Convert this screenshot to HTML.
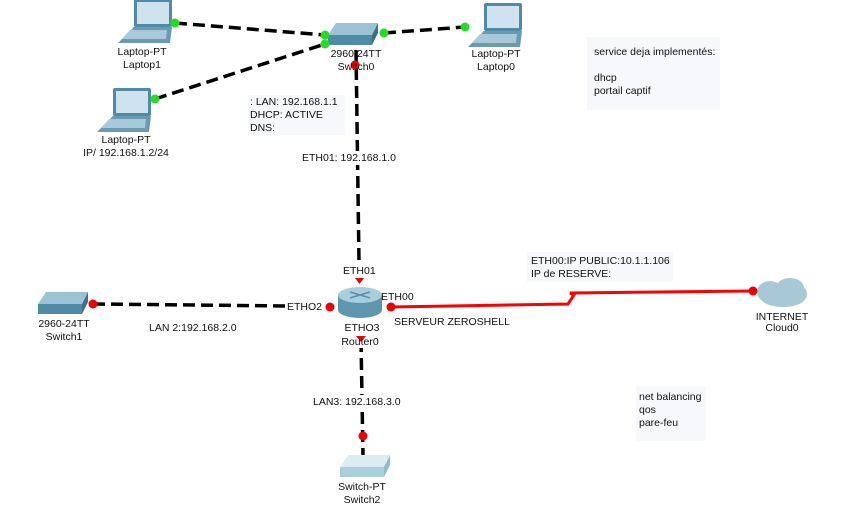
<!DOCTYPE html>
<html><head><meta charset="utf-8"><style>
html,body{margin:0;padding:0;background:#fff;}
svg{display:block;font-family:"Liberation Sans",sans-serif;font-size:10.5px;}
</style></head><body>
<svg width="848" height="513" viewBox="0 0 848 513" xmlns="http://www.w3.org/2000/svg">
<defs>
<g id="lap">
<rect x="0" y="0" width="38" height="28" rx="2" fill="#4f8aa6"/>
<rect x="3" y="3" width="32" height="22" fill="#cfe3ee"/>
<polygon points="0,28 38,28 36,44 -16,44" fill="#6a9bb4"/>
<polygon points="-4,31 33,31 32,40 -12,40" fill="#a9c8d8"/>
</g>
<g id="sw">
<polygon points="8,0 50,0 44,12 0,12" fill="#9cc3d3"/>
<rect x="0" y="12" width="44" height="10" fill="#4f8aa6"/>
<polygon points="44,12 50,0 50,10 44,22" fill="#3d6f88"/>
</g>
</defs>
<g stroke="#000" stroke-width="3.5" stroke-dasharray="12,6" fill="none">
<line x1="175" y1="23" x2="325" y2="35"/>
<line x1="155" y1="99" x2="325" y2="44"/>
<line x1="384" y1="33" x2="465" y2="27"/>
<line x1="356" y1="50" x2="359" y2="263"/>
<line x1="93" y1="304" x2="286" y2="306"/>
<line x1="361" y1="340" x2="363" y2="455"/>
</g>
<polyline points="391,307 568,304 574,295 570,293 753,291" fill="none" stroke="#f00" stroke-width="3"/>
<use href="#lap" x="134" y="-1"/>
<use href="#lap" x="484" y="3"/>
<use href="#lap" x="113" y="88"/>
<use href="#sw" x="328" y="23"/>
<use href="#sw" x="38" y="292"/>
<g transform="translate(340,455)">
<polygon points="8,0 50,0 44,12 0,12" fill="#dbecf2"/>
<rect x="0" y="12" width="44" height="10" fill="#a9cfdc"/>
<polygon points="44,12 50,0 50,10 44,22" fill="#8fbccc"/>
</g>
<rect x="338" y="295" width="44" height="15" fill="#5f97ae"/>
<ellipse cx="360" cy="310" rx="22" ry="8" fill="#5f97ae"/>
<ellipse cx="360" cy="295" rx="22" ry="8" fill="#a9cfdc"/>
<path d="M350 292 L370 298 M370 292 L350 298" stroke="#5f8ea4" stroke-width="1.5"/>
<g fill="#a8c8d6"><ellipse cx="770" cy="292" rx="13" ry="11"/><ellipse cx="790" cy="288" rx="14" ry="10"/><ellipse cx="783" cy="298" rx="22" ry="9"/><ellipse cx="797" cy="294" rx="10" ry="9"/></g>
<g fill="#fff">
<rect x="300" y="151" width="98" height="14"/>
<rect x="341" y="264" width="36" height="13"/>
<rect x="286" y="300" width="38" height="13"/>
<rect x="311" y="395" width="90" height="14"/>
<rect x="147" y="321" width="90" height="13"/>
<rect x="341" y="321" width="40" height="27"/>
<rect x="392" y="316" width="108" height="13"/>
<rect x="755" y="310" width="55" height="25"/>
</g>
<g fill="#22dd22"><circle cx="175" cy="23" r="4.5"/><circle cx="325" cy="35" r="4.5"/><circle cx="325" cy="44" r="4.5"/><circle cx="384" cy="33" r="4.5"/><circle cx="465" cy="27" r="4.5"/><circle cx="155" cy="99" r="4.5"/></g>
<g fill="#e00"><circle cx="355" cy="65" r="4.5"/><circle cx="93" cy="304" r="4.5"/><circle cx="330" cy="307" r="4.5"/><circle cx="391" cy="307" r="4.5"/><circle cx="363" cy="436" r="4.5"/><circle cx="753" cy="291" r="4.5"/>
<polygon points="355,278 364,278 359.5,284"/><polygon points="356,336 366,336 361,342"/></g>
<g fill="#f6f8fb"><rect x="248" y="95" width="97" height="40"/><rect x="587" y="37" width="133" height="73"/><rect x="527" y="252" width="146" height="30"/><rect x="636" y="386" width="70" height="55"/></g>
<g fill="#111" text-anchor="middle">
<text x="142" y="55">Laptop-PT</text><text x="142" y="68">Laptop1</text>
<text x="356" y="57">2960  24TT</text><text x="356" y="70">Switch0</text>
<text x="496" y="57">Laptop-PT</text><text x="496" y="70">Laptop0</text>
<text x="126" y="143">Laptop-PT</text><text x="126" y="156">IP/ 192.168.1.2/24</text>
<text x="64" y="327">2960-24TT</text><text x="64" y="340">Switch1</text>
<text x="362" y="331">ETHO3</text><text x="360" y="345">Router0</text>
<text x="362" y="490">Switch-PT</text><text x="362" y="503">Switch2</text>
<text x="782" y="320">INTERNET</text><text x="782" y="331">Cloud0</text>
</g>
<g fill="#111">
<text x="250" y="105">: LAN: 192.168.1.1</text><text x="250" y="118">DHCP: ACTIVE</text><text x="250" y="131">DNS:</text>
<text x="302" y="161">ETH01: 192.168.1.0</text>
<text x="343" y="274">ETH01</text>
<text x="287" y="310">ETHO2</text>
<text x="381" y="300">ETH00</text>
<text x="394" y="325">SERVEUR ZEROSHELL</text>
<text x="149" y="331">LAN 2:192.168.2.0</text>
<text x="313" y="405">LAN3: 192.168.3.0</text>
<text x="531" y="264">ETH00:IP PUBLIC:10.1.1.106</text><text x="531" y="277">IP  de RESERVE:</text>
<text x="594" y="55">service deja implementés:</text><text x="594" y="81">dhcp</text><text x="594" y="94">portail captif</text>
<text x="639" y="400">net balancing</text><text x="639" y="413">qos</text><text x="639" y="426">pare-feu</text>
</g>
</svg>
</body></html>
